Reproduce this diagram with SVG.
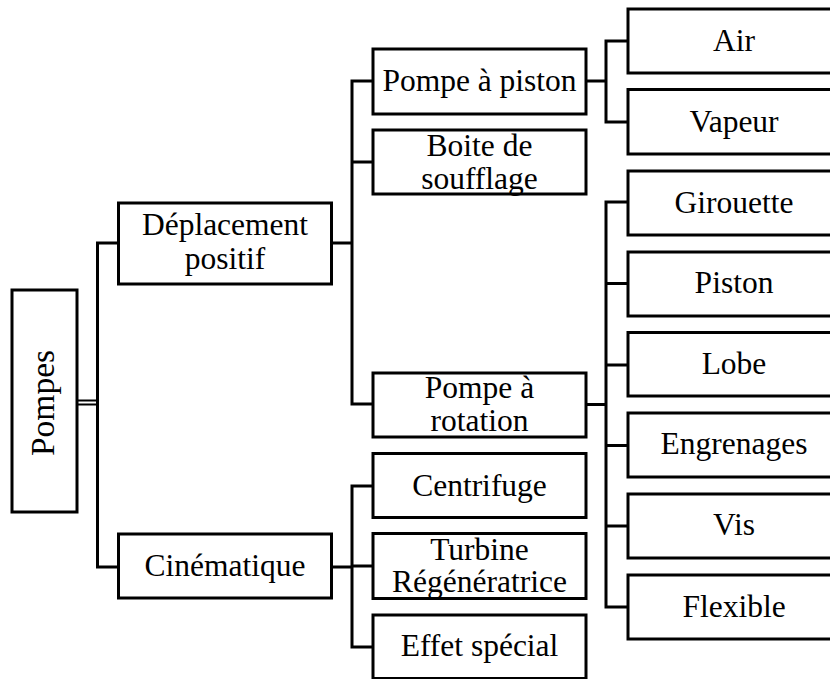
<svg xmlns="http://www.w3.org/2000/svg" width="830" height="679" viewBox="0 0 830 679">
<style>
rect{fill:#fff;stroke:#000;stroke-width:3}
text{font-family:"Liberation Serif","Times New Roman",serif;font-size:31.5px;fill:#000;text-anchor:middle}
.c{fill:none;stroke:#000;stroke-width:3}
.d{fill:none;stroke:#000;stroke-width:2}
</style>
<rect x="0" y="0" width="830" height="679" style="stroke:none"/>
<g id="connectors">
<path class="d" d="M77,400.5H97.5M77,404.5H97.5"/>
<path class="c" d="M118.5,243H97.5V567H118.5"/>
<path class="c" d="M331.5,243H352M373,81H352V404H373M352,162H373"/>
<path class="c" d="M331.5,567H352M373,486H352V647H373M352,566H373"/>
<path class="c" d="M586,81H606M628,41H606V122H628"/>
<path class="c" d="M586,404.5H606M628,202H606V607H628M606,283.5H628M606,365H628M606,445.5H628M606,526H628"/>
</g>
<g id="pompes"><rect x="12" y="290" width="65" height="222"/><text transform="translate(54,403) rotate(-90)" style="font-size:33.5px">Pompes</text></g>
<g id="deplacement"><rect x="118.5" y="203" width="213" height="81"/><text x="225" y="235">Déplacement</text><text x="225" y="269">positif</text></g>
<g id="cinematique"><rect x="118.5" y="534" width="213" height="64"/><text x="225" y="576">Cinématique</text></g>
<g id="pompe-piston"><rect x="373" y="49" width="213" height="65"/><text x="479.5" y="91">Pompe à piston</text></g>
<g id="boite"><rect x="373" y="130" width="213" height="64"/><text x="479.5" y="156">Boite de</text><text x="479.5" y="188.5">soufflage</text></g>
<g id="pompe-rotation"><rect x="373" y="373" width="213" height="64"/><text x="479.5" y="397.5">Pompe à</text><text x="479.5" y="430.5">rotation</text></g>
<g id="centrifuge"><rect x="373" y="453.5" width="213" height="64"/><text x="479.5" y="496">Centrifuge</text></g>
<g id="turbine"><rect x="373" y="533.5" width="213" height="65"/><text x="479.5" y="559.5">Turbine</text><text x="479.5" y="592">Régénératrice</text></g>
<g id="effet"><rect x="373" y="615" width="213" height="63.5"/><text x="479.5" y="656">Effet spécial</text></g>
<g id="air"><rect x="628" y="9" width="213" height="64"/><text x="734" y="51">Air</text></g>
<g id="vapeur"><rect x="628" y="89.5" width="213" height="64.5"/><text x="734" y="132">Vapeur</text></g>
<g id="girouette"><rect x="628" y="171" width="213" height="64"/><text x="734" y="213">Girouette</text></g>
<g id="piston"><rect x="628" y="252" width="213" height="64"/><text x="734" y="293">Piston</text></g>
<g id="lobe"><rect x="628" y="332.5" width="213" height="63.5"/><text x="734" y="374">Lobe</text></g>
<g id="engrenages"><rect x="628" y="413" width="213" height="64"/><text x="734" y="453.5">Engrenages</text></g>
<g id="vis"><rect x="628" y="494" width="213" height="64"/><text x="734" y="535">Vis</text></g>
<g id="flexible"><rect x="628" y="575" width="213" height="64"/><text x="734" y="617">Flexible</text></g>
</svg>
